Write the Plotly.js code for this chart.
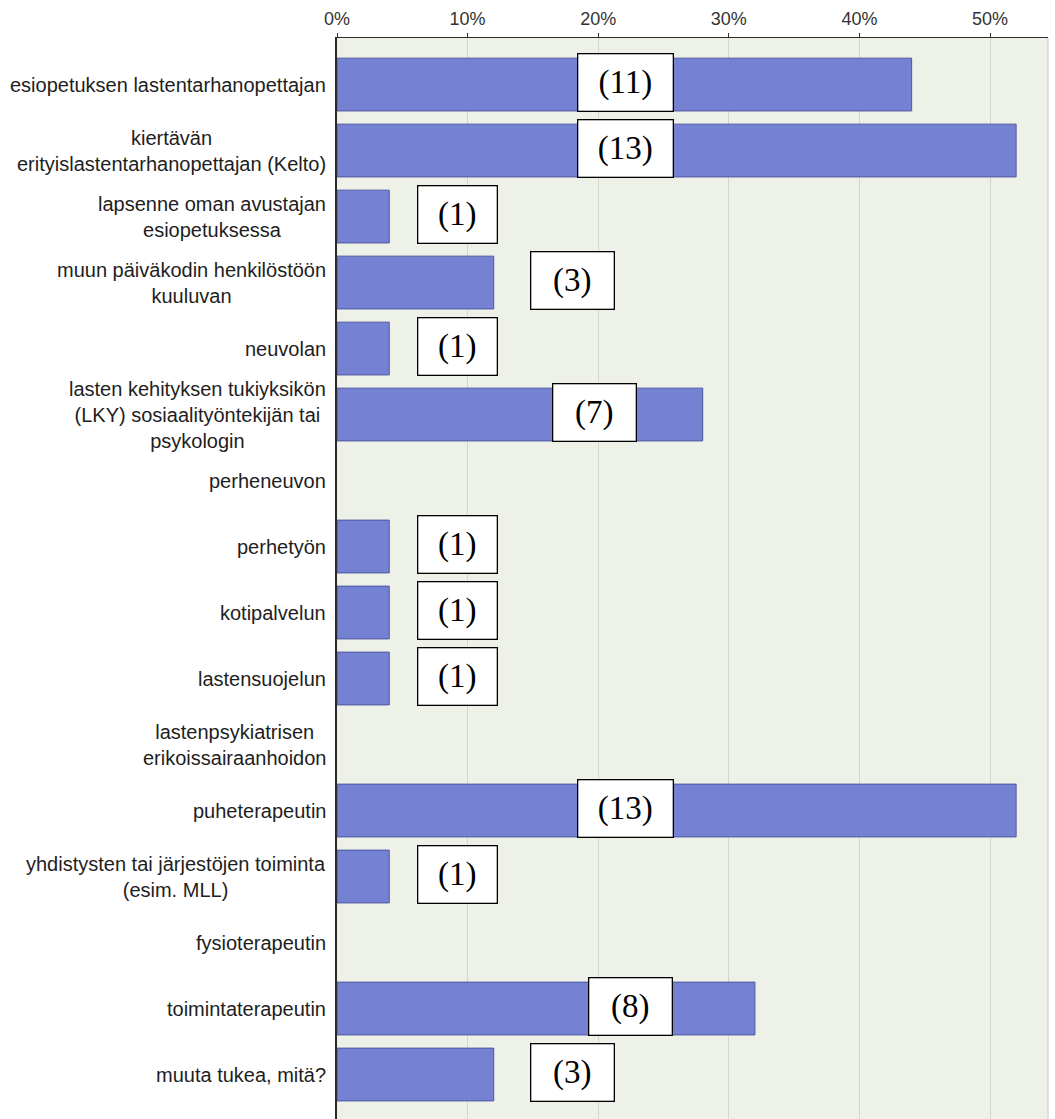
<!DOCTYPE html>
<html>
<head>
<meta charset="utf-8">
<script src="https://cdn.plot.ly/plotly-3.0.1.min.js"></script>
<style>
  html, body { margin: 0; padding: 0; background: #ffffff; }
  #chart { width: 1055px; height: 1119px; }
</style>
</head>
<body>
<div id="chart"></div>
<script>
// Answer categories (line breaks as shown beside the bars)
const categories = [
  "esiopetuksen lastentarhanopettajan",
  "kiertävän<br>erityislastentarhanopettajan (Kelto)",
  "lapsenne oman avustajan<br>esiopetuksessa",
  "muun päiväkodin henkilöstöön<br>kuuluvan",
  "neuvolan",
  "lasten kehityksen tukiyksikön<br>(LKY) sosiaalityöntekijän tai<br>psykologin",
  "perheneuvon",
  "perhetyön",
  "kotipalvelun",
  "lastensuojelun",
  "lastenpsykiatrisen<br>erikoissairaanhoidon",
  "puheterapeutin",
  "yhdistysten tai järjestöjen toiminta<br>(esim. MLL)",
  "fysioterapeutin",
  "toimintaterapeutin",
  "muuta tukea, mitä?"
];

// Number of respondents choosing each option
const counts = [11, 13, 1, 3, 1, 7, 0, 1, 1, 1, 0, 13, 1, 0, 8, 3];

// Total respondents; bar length is the share of this total
const respondents = 25;

// Horizontal placement of each count box (in % on the x axis)
const countBoxX = [22.1, 22.1, 9.2, 18.0, 9.2, 19.7, null, 9.2, 9.2, 9.2, null, 22.1, 9.2, null, 22.5, 18.0];

// Axis ticks
const tickValues = [0, 10, 20, 30, 40, 50];
const tickLabels = ["0%", "10%", "20%", "30%", "40%", "50%"];

const percents = counts.map(c => c / respondents * 100);

const bars = {
  type: "bar",
  orientation: "h",
  x: percents,
  y: categories,
  width: 0.8,
  marker: {
    color: "#7581d2",
    line: { color: "#4e58a0", width: counts.map(c => (c > 0 ? 1 : 0)) }
  },
  hoverinfo: "skip"
};

const annotations = [];

// Category labels, centred line by line and right-aligned against the axis
categories.forEach(cat => {
  annotations.push({
    xref: "paper", yref: "y",
    x: 0, y: cat,
    xanchor: "right", yanchor: "middle",
    xshift: -9,
    align: "center",
    text: cat,
    showarrow: false,
    font: { family: "Liberation Sans, Arial, sans-serif", size: 20, color: "#1e1e1e" }
  });
});

// Boxed respondent counts
counts.forEach((c, i) => {
  if (countBoxX[i] === null) return;
  const label = "(" + c + ")";
  annotations.push({
    xref: "x", yref: "y",
    x: countBoxX[i], y: categories[i],
    xanchor: "center", yanchor: "middle",
    yshift: 2,
    text: label,
    showarrow: false,
    width: c >= 10 ? 94 : (c === 1 ? 78 : 82),
    height: 56,
    bgcolor: "#ffffff",
    bordercolor: "#000000",
    borderwidth: 1.3,
    borderpad: 0,
    font: { family: "Liberation Serif, Times New Roman, serif", size: 33, color: "#000000" }
  });
});

const layout = {
  width: 1055,
  height: 1119,
  margin: { l: 337, r: 7, t: 38, b: 0, pad: 0 },
  paper_bgcolor: "#ffffff",
  plot_bgcolor: "#eef1e8",
  showlegend: false,
  bargap: 0.2,
  xaxis: {
    side: "top",
    range: [0, 54.44],
    tickvals: tickValues,
    ticktext: tickLabels,
    ticks: "outside",
    ticklen: 4,
    tickcolor: "#333333",
    tickfont: { family: "Liberation Sans, Arial, sans-serif", size: 18, color: "#333333" },
    showgrid: true,
    gridcolor: "#d3d6cb",
    gridwidth: 1,
    showline: true,
    linecolor: "#2a2a2a",
    linewidth: 1.5,
    zeroline: false,
    fixedrange: true
  },
  yaxis: {
    type: "category",
    categoryorder: "array",
    categoryarray: categories,
    range: [15.674, -0.705],
    showticklabels: false,
    ticks: "",
    showgrid: false,
    showline: true,
    linecolor: "#2a2a2a",
    linewidth: 2,
    zeroline: false,
    fixedrange: true
  },
  shapes: [{
    type: "line", xref: "paper", yref: "paper",
    x0: 1, x1: 1, y0: 0, y1: 1,
    line: { color: "#c9ccc2", width: 1 }
  }],
  annotations: annotations
};

Plotly.newPlot("chart", [bars], layout, { staticPlot: true, displayModeBar: false });
</script>
</body>
</html>
